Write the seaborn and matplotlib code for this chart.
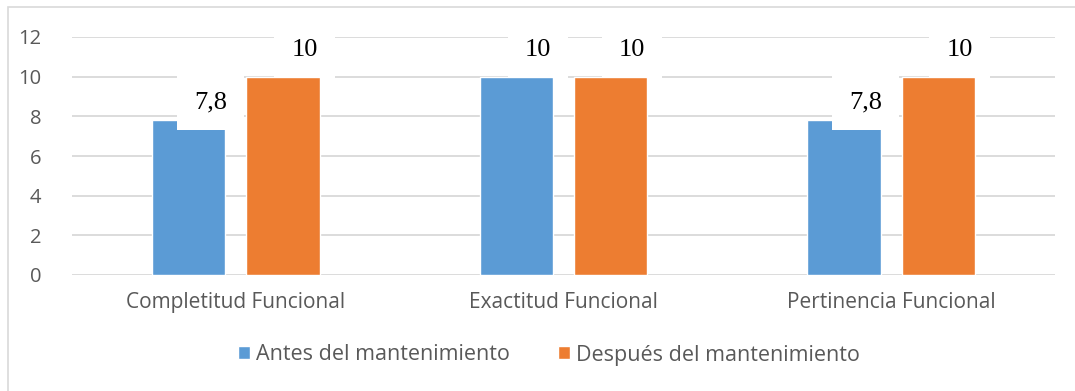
import matplotlib
matplotlib.use("Agg")
import matplotlib.pyplot as plt
from matplotlib.patches import Rectangle
import seaborn as sns
import pandas as pd

# Chart data
categories = ["Completitud Funcional", "Exactitud Funcional", "Pertinencia Funcional"]
series_names = ["Antes del mantenimiento", "Después del mantenimiento"]
antes = [7.8, 10, 7.8]
despues = [10, 10, 10]
value_labels_antes = ["7,8", "10", "7,8"]
value_labels_despues = ["10", "10", "10"]
y_ticks = [0, 2, 4, 6, 8, 10, 12]

colors = ["#5B9BD5", "#ED7D31"]
grid_color = "#D9D9D9"
text_gray = "#595959"

df = pd.DataFrame({
    "categoria": categories * 2,
    "serie": [series_names[0]] * 3 + [series_names[1]] * 3,
    "valor": antes + despues,
})

sns.set_theme(style="white")
plt.rcParams["font.family"] = ["Open Sans", "DejaVu Sans"]

W, H = 1075, 391
fig = plt.figure(figsize=(W / 100, H / 100), dpi=100)
ax = fig.add_axes([72 / W, 1 - 275 / H, (1055 - 72) / W, (275 - 37) / H])

sns.barplot(data=df, x="categoria", y="valor", hue="serie", order=categories,
            hue_order=series_names, palette=colors, width=0.575, gap=0.22,
            saturation=1, ax=ax, zorder=2)

ax.set_ylim(0, 12)
ax.set_xlim(-0.5, 2.5)
ax.set_yticks(y_ticks)
ax.yaxis.grid(True, color=grid_color, linewidth=1.3, zorder=0)
ax.set_axisbelow(True)
for s in ax.spines.values():
    s.set_visible(False)
ax.set_xlabel("")
ax.set_ylabel("")
ax.tick_params(axis="y", length=0, pad=22, labelsize=14.5, labelcolor=text_gray)
ax.tick_params(axis="x", length=0, pad=12, labelsize=15, labelcolor=text_gray)

# Data labels in white boxes
label_sets = [value_labels_antes, value_labels_despues]
value_sets = [antes, despues]
for container, labels, values in zip(ax.containers, label_sets, value_sets):
    for bar, lab, v in zip(container, labels, values):
        cx = bar.get_x() + bar.get_width() / 2
        lift = 13 if v < 10 else 19.5
        ax.annotate(lab, xy=(cx, v), xytext=(15.5, lift), textcoords="offset points",
                    ha="center", va="center", fontsize=19,
                    family=["Liberation Serif", "DejaVu Serif"], color="black",
                    bbox=dict(boxstyle="square,pad=0.65", fc="white", ec="none"),
                    zorder=5, annotation_clip=False)

leg = ax.legend(loc="center", bbox_to_anchor=(549 / W, 1 - 355 / H),
                bbox_transform=fig.transFigure, ncol=2, frameon=False,
                fontsize=15.5, handlelength=0.55, handleheight=0.55,
                handletextpad=0.3, columnspacing=2.2)
for t in leg.get_texts():
    t.set_color(text_gray)

# Chart area border
fig.patches.append(Rectangle((8 / W, -0.1), 1.2, 1 - 7 / H + 0.1,
                             transform=fig.transFigure, fill=False,
                             ec="#D9D9D9", lw=1.2))

fig.savefig("out.png", dpi=100)
